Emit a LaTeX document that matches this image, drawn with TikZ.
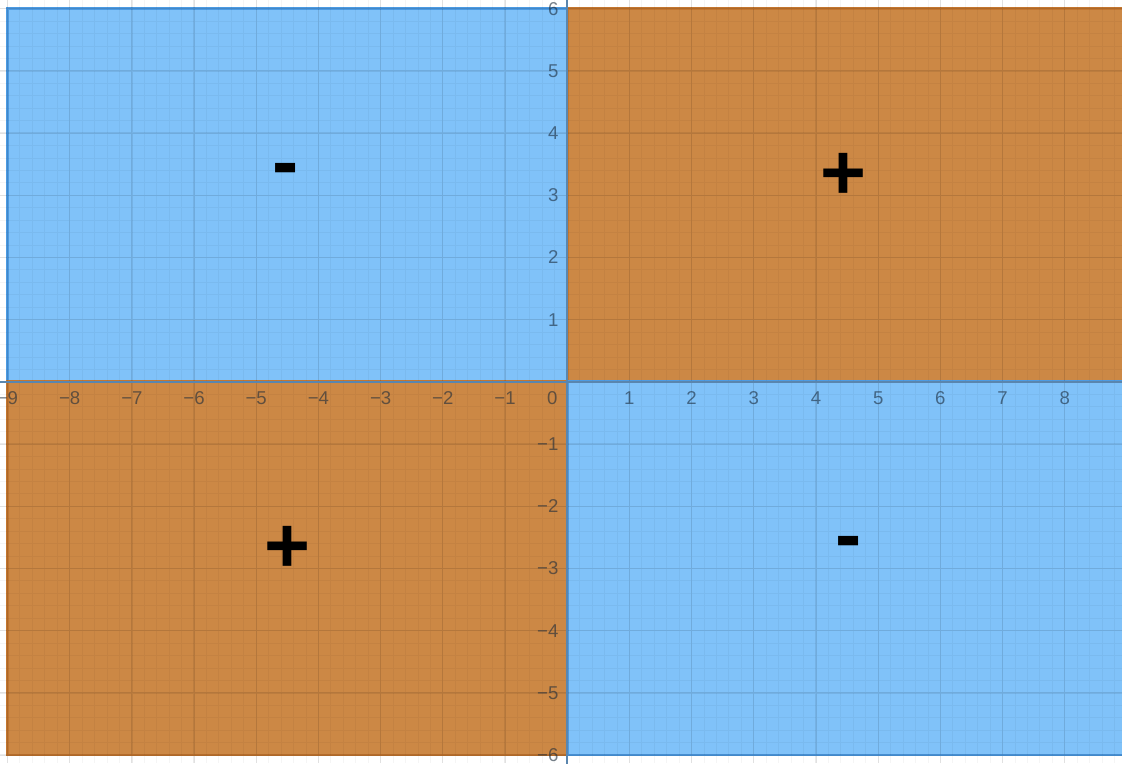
\documentclass[tikz,border=0pt]{standalone}
\usepackage{fontspec}
\setmainfont{Liberation Sans}
\usetikzlibrary{positioning}
\definecolor{bluefill}{HTML}{80C2F9}
\definecolor{blueedge}{HTML}{4C9BE3}
\definecolor{orangefill}{HTML}{CC8845}
\definecolor{orangeedge}{HTML}{C4762F}
\definecolor{axisgray}{HTML}{5A86AE}
\definecolor{ticktext}{HTML}{1A2A3A}
\tikzset{
  % Quadrant regions
  quadrant/.style={draw=#1edge, fill=#1fill, line width=1.3pt},
  quadrant/.default={blue},
  % Grid lines
  minorgrid/.style={black, opacity=0.04, line width=0.4pt},
  majorgrid/.style={black, opacity=0.08, line width=0.6pt},
  % Axes
  axisline/.style={axisgray, line width=1pt},
  % Tick labels
  ticklabel/.style={font=\fontsize{8.5}{9}\selectfont, text=ticktext,
    text opacity=0.6, inner sep=1pt},
  % Sign labels
  signlabel/.style={font=\fontsize{36}{36}\selectfont\bfseries, inner sep=0pt},
}
\begin{document}
\begin{tikzpicture}
  \useasboundingbox (-9.12,-6.13) rectangle (8.92,6.14);

  % Quadrants
  \fill[white] (-9.12,-6.13) rectangle (8.92,6.14);
  \draw[quadrant=blue] (-9,0) rectangle (0,6);
  \draw[quadrant=orange] (0,0) rectangle (9.2,6);
  \draw[quadrant=orange] (-9,-6) rectangle (0,0);
  \draw[quadrant=blue] (0,-6) rectangle (9.2,0);

  % Grid
  \draw[minorgrid, step=0.2] (-9.12,-6.13) grid (8.92,6.14);
  \draw[majorgrid, step=1] (-9.12,-6.13) grid (8.92,6.14);

  % Axes
  \draw[axisline] (-9.2,0) -- (9.2,0);
  \draw[axisline] (0,-6.2) -- (0,6.2);

  % Tick labels
  \foreach \x in {1,...,8}
    \node[ticklabel] (xp\x) at (\x,-0.26) {\x};
  \foreach \x in {1,...,9}
    \node[ticklabel] (xn\x) at (-\x,-0.26) {−\x};
  \node[ticklabel] (xl0) at (-0.24,-0.26) {0};
  \foreach \y in {1,...,6} {
    \node[ticklabel, anchor=east] (yp\y) at (-0.1,\y) {\y};
    \node[ticklabel, anchor=east] (yn\y) at (-0.1,-\y) {−\y};
  }

  % Signs
  \node[signlabel] (tl) at (-4.53,3.31) {-};
  \node[signlabel] (tr) at (4.44,3.30) {+};
  \node[signlabel] (bl) at (-4.5,-2.69) {+};
  \node[signlabel] (br) at (4.53,-2.69) {-};
\end{tikzpicture}
\end{document}
